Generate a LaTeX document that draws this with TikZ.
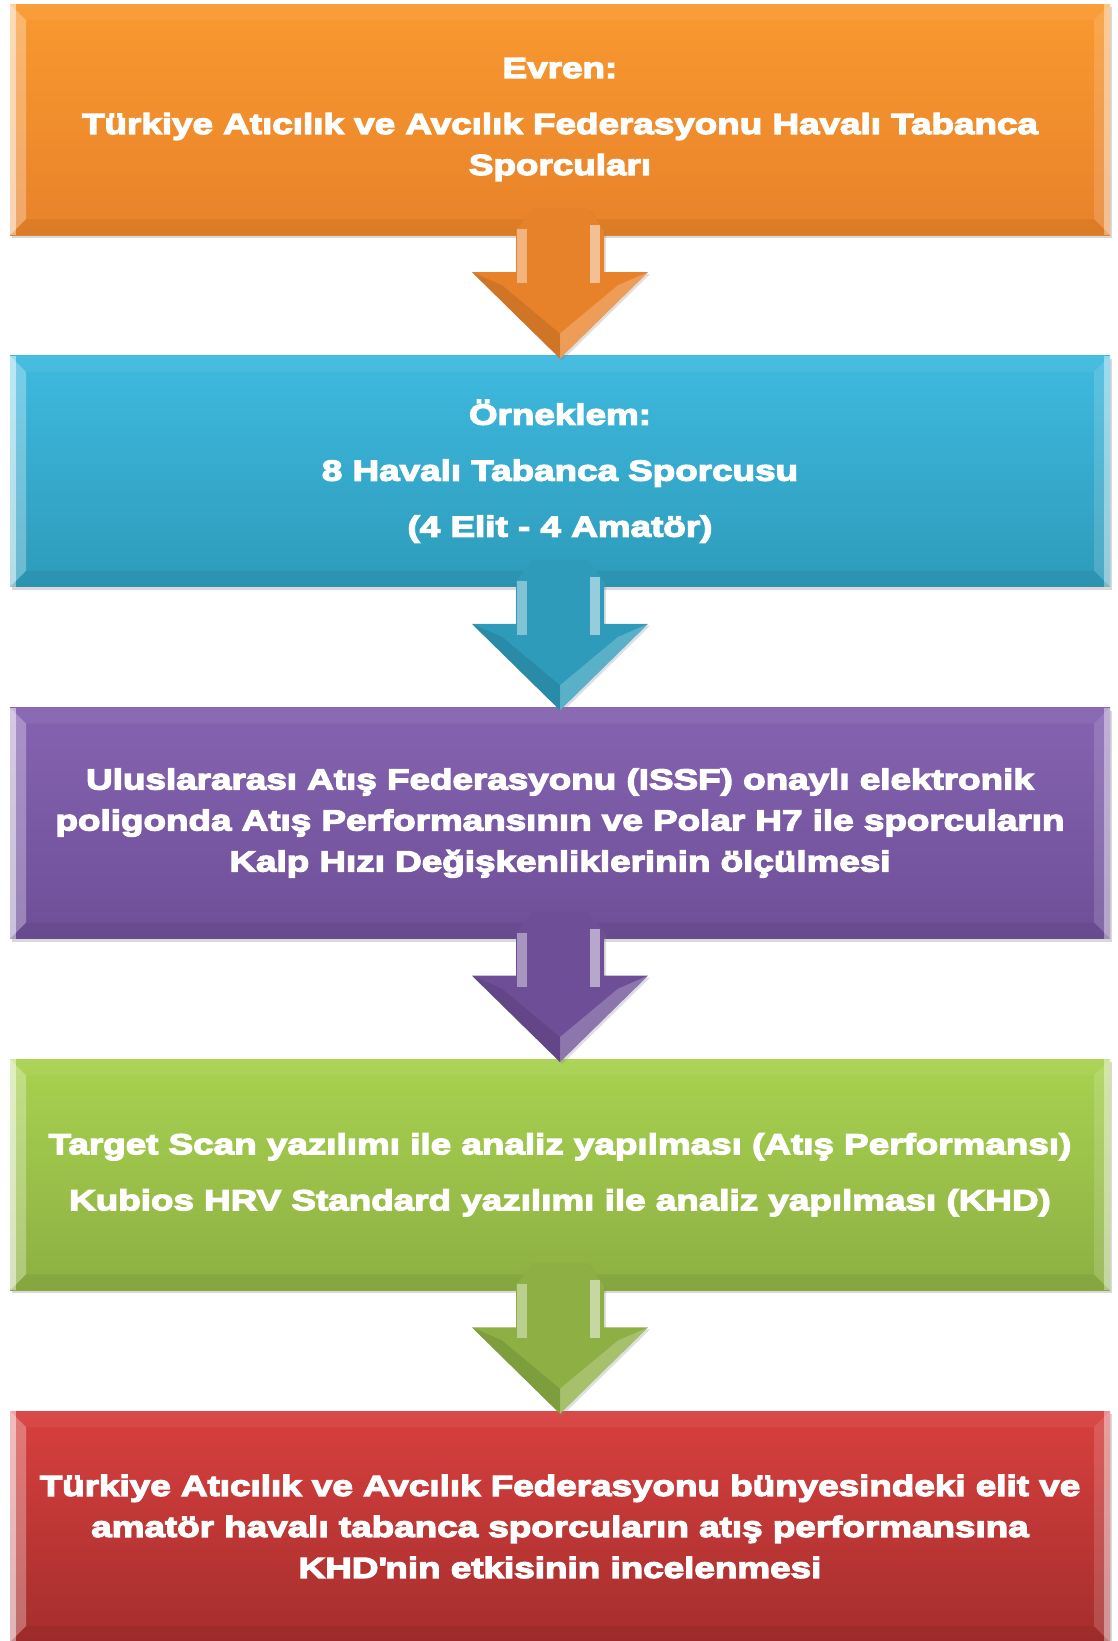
\documentclass[tikz,border=0pt]{standalone}
\usepackage{fontspec}
\setmainfont{Liberation Sans}[BoldFeatures={FakeBold=4.5,FakeStretch=1.27}]
\usetikzlibrary{calc,shadows}

\definecolor{orangeTop}{HTML}{F9992F}
\definecolor{orangeBot}{HTML}{E8822A}
\definecolor{blueTop}{HTML}{3EBADF}
\definecolor{blueBot}{HTML}{2E9BBA}
\definecolor{purpleTop}{HTML}{8563B1}
\definecolor{purpleBot}{HTML}{6E4F97}
\definecolor{greenTop}{HTML}{A8D250}
\definecolor{greenBot}{HTML}{8DAF43}
\definecolor{redTop}{HTML}{D8403E}
\definecolor{redBot}{HTML}{A42E2D}

\tikzset{
  stagebox/.style={rectangle, minimum width=1100pt, minimum height=231pt,
    inner sep=0pt, text=white, align=center,
    font=\bfseries\fontsize{29pt}{41pt}\selectfont,
    drop shadow={opacity=0.3, shadow xshift=2pt, shadow yshift=-3pt},
    path picture={
      % bevel round the box
      \fill[white, opacity=0.3] (path picture bounding box.north west) -- ++(16pt,-16pt)
        |- ($(path picture bounding box.south west)+(16pt,16pt)$) -- (path picture bounding box.south west) -- cycle;
      \fill[white, opacity=0.5] (path picture bounding box.north west) rectangle
        ($(path picture bounding box.south west)+(6pt,0pt)$);
      \fill[white, opacity=0.05] (path picture bounding box.north west) -- ++(16pt,-16pt)
        -- ($(path picture bounding box.north east)+(-16pt,-16pt)$) -- (path picture bounding box.north east) -- cycle;
      \fill[white, opacity=0.15] (path picture bounding box.north east) -- ++(-16pt,-16pt)
        -- ($(path picture bounding box.south east)+(-16pt,16pt)$) -- (path picture bounding box.south east) -- cycle;
      \fill[white, opacity=0.4] (path picture bounding box.north east) rectangle
        ($(path picture bounding box.south east)+(-6pt,0pt)$);
      \fill[black, opacity=0.05] (path picture bounding box.south west) -- ++(16pt,16pt)
        -- ($(path picture bounding box.south east)+(-16pt,16pt)$) -- (path picture bounding box.south east) -- cycle;
    }},
  orangebox/.style={stagebox, top color=orangeTop, bottom color=orangeBot},
  bluebox/.style={stagebox, top color=blueTop, bottom color=blueBot},
  purplebox/.style={stagebox, top color=purpleTop, bottom color=purpleBot},
  greenbox/.style={stagebox, top color=greenTop, bottom color=greenBot},
  redbox/.style={stagebox, top color=redTop, bottom color=redBot},
}

\begin{document}
\begin{tikzpicture}[x=1pt, y=-1pt]
  \useasboundingbox (0,0) rectangle (1117,1641);

  \node[orangebox] (evren) at (560,119.5)
    {Evren:\\[15pt]
     Türkiye Atıcılık ve Avcılık Federasyonu Havalı Tabanca\\
     Sporcuları};
  \node[bluebox] (orneklem) at (560,471.25)
    {Örneklem:\\[15pt]
     8 Havalı Tabanca Sporcusu\\[15pt]
     (4 Elit - 4 Amatör)};
  \node[purplebox] (olcum) at (560,823)
    {Uluslararası Atış Federasyonu (ISSF) onaylı elektronik\\
     poligonda Atış Performansının ve Polar H7 ile sporcuların\\
     Kalp Hızı Değişkenliklerinin ölçülmesi};
  \node[greenbox] (analiz) at (560,1174.75)
    {Target Scan yazılımı ile analiz yapılması (Atış Performansı)\\[15pt]
     Kubios HRV Standard yazılımı ile analiz yapılması (KHD)};
  \node[redbox] (sonuc) at (560,1526.5)
    {Türkiye Atıcılık ve Avcılık Federasyonu bünyesindeki elit ve\\
     amatör havalı tabanca sporcuların atış performansına\\
     KHD\textquotesingle nin etkisinin incelenmesi};

  % block arrows between the stages
  \foreach \from/\to/\col in {evren/orneklem/orange, orneklem/olcum/blue,
                              olcum/analiz/purple, analiz/sonuc/green}{
    \fill[\col Bot, drop shadow={opacity=0.25, shadow xshift=2pt, shadow yshift=-2pt}]
      let \p1=(\from.south), \p2=(\to.north) in
      (\x1-44pt,\y1+5pt) -- (\x1-28pt,\y1+27pt) -- (\x1+28pt,\y1+27pt) -- (\x1+44pt,\y1+5pt)
      -- (\x1+44pt,\y1-37pt) -- (\x1+88pt,\y1-37pt) -- (\x2,\y2-3pt) -- (\x1-88pt,\y1-37pt)
      -- (\x1-44pt,\y1-37pt) -- cycle;
    \fill[white, opacity=0.4] let \p1=(\from.south) in
      (\x1-43pt,\y1+6pt) rectangle (\x1-33pt,\y1-48pt);
    \fill[white, opacity=0.5] let \p1=(\from.south) in
      (\x1+30pt,\y1+10pt) rectangle (\x1+40pt,\y1-48pt);
    \fill[white, opacity=0.22] let \p1=(\from.south), \p2=(\to.north) in
      (\x1+88pt,\y1-37pt) -- (\x2,\y2-3pt) -- (\x2,\y2+22pt) -- (\x1+58pt,\y1-50pt) -- cycle;
    \fill[black, opacity=0.1] let \p1=(\from.south), \p2=(\to.north) in
      (\x1-88pt,\y1-37pt) -- (\x2,\y2-3pt) -- (\x2,\y2+22pt) -- (\x1-58pt,\y1-50pt) -- cycle;
  }
\end{tikzpicture}
\end{document}
